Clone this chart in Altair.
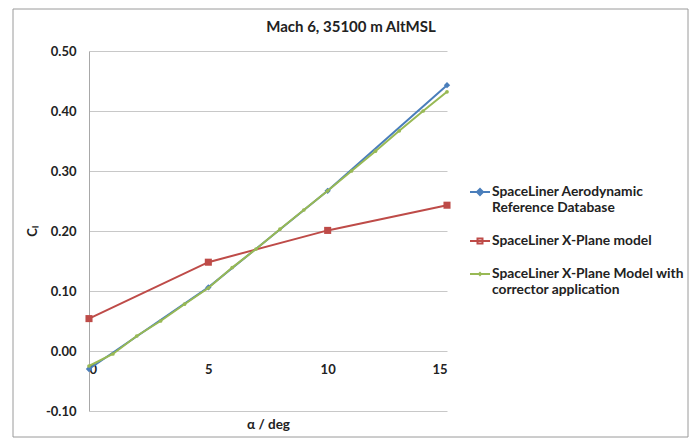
import altair as alt
import pandas as pd

# ---- data ----
series_names = [
    "SpaceLiner Aerodynamic Reference Database",
    "SpaceLiner X-Plane model",
    "SpaceLiner X-Plane Model with corrector application",
]
colors = ["#4A7EBB", "#BE4B48", "#98B954"]

alpha_ref = [0, 5, 10, 15]
cl_ref = [-0.030, 0.106, 0.267, 0.443]

alpha_xp = [0, 5, 10, 15]
cl_xp = [0.054, 0.148, 0.201, 0.243]

alpha_corr = [0, 1, 2, 3, 4, 5, 6, 7, 8, 9, 10, 11, 12, 13, 14, 15]
cl_corr = [-0.025, -0.005, 0.025, 0.050, 0.078, 0.105, 0.139, 0.170, 0.203,
           0.235, 0.267, 0.300, 0.333, 0.367, 0.400, 0.432]

x_ticks = [0, 5, 10, 15]
y_ticks = [-0.1, 0.0, 0.1, 0.2, 0.3, 0.4, 0.5]

rows = []
for a, v in zip(alpha_ref, cl_ref):
    rows.append({"series": series_names[0], "alpha": a, "cl": v})
for a, v in zip(alpha_xp, cl_xp):
    rows.append({"series": series_names[1], "alpha": a, "cl": v})
for a, v in zip(alpha_corr, cl_corr):
    rows.append({"series": series_names[2], "alpha": a, "cl": v})
df = pd.DataFrame(rows)

FONT = "Lato"

x_enc = alt.X(
    "alpha:Q",
    scale=alt.Scale(domain=[0, 15], nice=False, zero=False),
    axis=alt.Axis(
        values=x_ticks, title="α / deg", grid=False, domain=False, ticks=False,
        offset=-60, labelPadding=12, labelFontSize=13, labelFontWeight="bold",
        labelFont=FONT, labelColor="#222222", titleFont=FONT, titleFontSize=13.5,
        titleFontWeight="bold", titleColor="#222222", titleY=73,
        titleBaseline="middle",
    ),
)
y_enc = alt.Y(
    "cl:Q",
    scale=alt.Scale(domain=[-0.1, 0.5], nice=False, zero=False),
    axis=alt.Axis(
        values=y_ticks, title="Cₗ", grid=True, gridColor="#C8C8C8",
        domain=True, domainColor="#A8A8A8", ticks=False, labelPadding=13,
        labelExpr="replace(format(datum.value, '.2f'), '−', '-')",
        labelFontSize=13, labelFontWeight="bold", labelFont=FONT,
        labelColor="#222222", titleFont=FONT, titleFontSize=13,
        titleFontWeight="bold", titleColor="#222222", titlePadding=6,
    ),
)

layers = []
# outer frame (decoration)
frame = alt.Chart(pd.DataFrame({"a": [0]})).mark_rect(
    fill=None, stroke="#9A9A9A", strokeWidth=1
).encode(x=alt.value(-76), x2=alt.value(599), y=alt.value(-42), y2=alt.value(386))
layers.append(frame)

shapes = ["diamond", "square", "circle"]
sizes = [40, 50, 14]
for name, col, shp, sz in zip(series_names, colors, shapes, sizes):
    sub = alt.Chart(df).transform_filter(alt.datum.series == name)
    layers.append(sub.mark_line(color=col, strokeWidth=2).encode(x=x_enc, y=y_enc))
    layers.append(sub.mark_point(color=col, filled=True, shape=shp, size=sz, opacity=1)
                  .encode(x=x_enc, y=y_enc))

legend_paths = [
    "M-1,0L1,0M-0.3,0L0,-0.3L0.3,0L0,0.3Z",
    "M-1,0L1,0M-0.25,-0.25L0.25,-0.25L0.25,0.25L-0.25,0.25Z",
    "M-1,0L1,0M-0.1,0L0,-0.1L0.1,0L0,0.1Z",
]
label_expr = (
    "datum.label == 'SpaceLiner Aerodynamic Reference Database' ? "
    "['SpaceLiner Aerodynamic', 'Reference Database'] : "
    "datum.label == 'SpaceLiner X-Plane Model with corrector application' ? "
    "['SpaceLiner X-Plane Model with', 'corrector application'] : datum.label"
)
legend_layer = alt.Chart(df).transform_filter("false").mark_point(
    filled=False, strokeWidth=2, opacity=1
).encode(
    color=alt.Color("series:N", scale=alt.Scale(domain=series_names, range=colors),
                    legend=alt.Legend(
                        title=None, orient="none", legendX=380, legendY=130,
                        labelExpr=label_expr, labelFont=FONT, labelFontSize=13.8,
                        labelFontWeight="bold", labelColor="#222222",
                        labelLimit=300, symbolSize=400, symbolStrokeWidth=2,
                        rowPadding=15, labelOffset=1,
                    )),
    shape=alt.Shape("series:N", scale=alt.Scale(domain=series_names, range=legend_paths),
                    legend=None),
)
layers.append(legend_layer)

chart = alt.layer(*layers).properties(
    width=358, height=360,
    title=alt.TitleParams("Mach 6, 35100 m AltMSL", font=FONT, fontSize=15,
                          fontWeight="bold", color="#222222", anchor="middle",
                          dx=83, offset=-26),
    autosize=alt.AutoSizeParams(type="none"),
    padding={"left": 81, "top": 43, "right": 242, "bottom": 28},
).configure_view(stroke=None).configure_scale(zero=False)

chart.save("out.html", embed_options={"renderer": "svg", "actions": False})
